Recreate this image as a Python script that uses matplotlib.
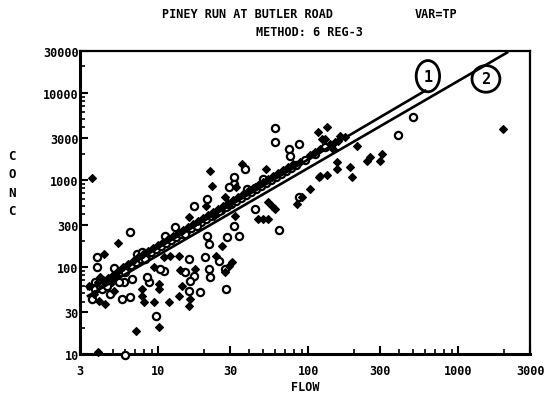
import matplotlib
matplotlib.use("Agg")
import matplotlib.pyplot as plt
from matplotlib.patches import Ellipse
from matplotlib.ticker import FixedLocator, LogLocator, NullFormatter, FixedFormatter

# ---------------- data ----------------
# open-circle observations: flow, concentration
circ_flow = [3.78, 4.08, 4.47, 4.83, 5.21, 5.63, 6.08, 6.56, 7.09, 7.65, 8.26, 8.92, 9.64, 10.4, 11.2,
             12.1, 13.1, 14.1, 15.3, 16.5, 17.8, 19.2, 20.8, 22.4, 24.2, 26.1, 28.2, 30.5, 32.9, 35.5,
             38.4, 41.4, 44.7, 48.3, 52.1, 56.3, 60.8, 65.6, 70.9, 76.5, 82.6, 94.9, 111, 129,
             59.7, 59.7, 87, 74, 75, 86, 64, 44, 50, 39.2, 37.8, 32, 32, 29.6, 21.2, 17.2, 25.2, 32,
             34.5, 28.6, 21.2, 21.6, 18, 15, 12.9, 11.1, 6.46, 3.89, 5.05, 5.97, 7.2, 7.77, 8.15, 16,
             20.3, 25.2, 28.2, 21.6, 22, 17.2, 16.2, 15, 10.9, 10.26, 8.66, 8.4, 16, 18.9, 9.65, 5.71,
             6.46, 5.89, 6.66, 3.77, 4.19, 4.54, 4.75, 3.61, 5.45, 3.89, 5.97, 395, 500, 27.8]
circ_conc = [55.9, 60.5, 65.5, 72.8, 80.9, 87.6, 94.9, 105, 114, 124, 137, 149, 161, 174, 189,
             204, 221, 239, 259, 281, 304, 329, 356, 386, 418, 452, 490, 530, 574, 621,
             673, 728, 788, 853, 924, 1000, 1082, 1172, 1268, 1374, 1486, 1698, 1990, 2395,
             3960, 2730, 2590, 2270, 1890, 640, 266, 464, 1026, 788, 1337, 1082, 900, 832, 605, 502, 440, 296,
             227, 221, 227, 184, 296, 239, 288, 227, 252, 100, 97, 88, 141, 149, 124, 124,
             130, 117, 56, 95, 77, 79, 69, 88, 90, 95, 67, 77, 53, 51.6, 27.3, 42.9,
             45.2, 67, 72.8, 67, 56, 60.5, 48.9, 42.9, 67, 130, 9.8, 3290, 5300, 95]

# filled-diamond observations: flow, concentration
dia_flow = [3.95, 4.27, 4.61, 4.98, 5.38, 5.80, 6.27, 6.77, 7.31, 7.89, 8.52, 9.20, 9.93, 10.7, 11.6,
            12.5, 13.5, 14.6, 15.7, 17.0, 18.4, 19.8, 21.4, 23.1, 25.0, 26.9, 29.1, 31.4, 33.9, 36.6,
            39.5, 42.7, 46.1, 49.8, 53.8, 58.0, 62.7, 67.7, 73.1, 78.9, 87.9, 102, 119, 139, 157, 175,
            133, 116, 123, 150, 110, 117, 133, 102, 84, 57, 60, 54, 46, 50, 54, 52, 44, 36.1, 22, 22.6,
            33, 27.8, 20.8, 16, 23.3, 29.6, 32.5, 26.5, 5.37, 4.34, 10.9, 11.96, 13.7, 24.3, 31, 29.6,
            27.8, 17.5, 13.9, 9.36, 10.1, 10.1, 7.77, 7.77, 8.02, 9.36, 11.8, 13.7, 14.3, 16.2, 16,
            10.1, 7.1, 3.44, 4.07, 3.72, 4.01, 4.41, 5.05, 4.9, 5.13, 3.61, 3.95,
            129, 162, 146, 189, 195, 119, 90, 246, 257, 300, 309, 155, 155, 211, 1982]
dia_conc = [67.2, 70.9, 74.7, 80.9, 90.0, 100, 108, 117, 130, 141, 153, 165, 179, 194, 210,
            227, 246, 266, 288, 312, 338, 366, 396, 429, 464, 502, 544, 589, 638, 690,
            748, 809, 876, 948, 1026, 1111, 1203, 1302, 1410, 1527, 1610, 1938, 2272, 2593, 2806, 3121,
            4065, 3560, 2960, 2730, 2100, 1082, 1141, 788, 530, 502, 464, 559, 356, 356, 356, 1337, 832, 1527, 1268, 853,
            832, 638, 502, 376, 386, 502, 386, 174, 189, 141, 130, 134, 134, 134, 114, 103,
            88, 95, 92, 100, 64, 56, 56, 46, 40, 40, 40, 46, 60, 43, 36,
            20.4, 18.4, 60.5, 76.7, 48.9, 40.6, 37.5, 53, 67, 78.8, 1054, 10.5,
            2960, 3200, 2270, 1410, 1082, 1111, 638, 1653, 1838, 1653, 1990, 1610, 1337, 2460, 3855]

# regression lines (endpoints)
line1_flow = [3.39, 599]
line1_conc = [55.9, 10500]
line2_flow = [3.39, 2110]
line2_conc = [46.4, 28800]

xticks = [3, 10, 30, 100, 300, 1000, 3000]
xtick_labels = ["3", "10", "30", "100", "300", "1000", "3000"]
yticks = [10, 30, 100, 300, 1000, 3000, 10000, 30000]
ytick_labels = ["10", "30", "100", "300", "1000", "3000", "10000", "30000"]

# ---------------- figure ----------------
FONT = "DejaVu Sans Mono"
fig = plt.figure(figsize=(5.47, 4.02), dpi=100)
ax = fig.add_axes([0.1463, 0.1169, 0.969 - 0.1463, 0.8706 - 0.1169])
ax.set_xscale("log")
ax.set_yscale("log")
ax.set_xlim(3, 3000)
ax.set_ylim(10, 30000)

ax.plot(circ_flow, circ_conc, linestyle="none", marker="o", markersize=5.2,
        markerfacecolor="white", markeredgecolor="black", markeredgewidth=1.6, clip_on=False, zorder=3)
ax.plot(dia_flow, dia_conc, linestyle="none", marker="D", markersize=4.2,
        markerfacecolor="black", markeredgecolor="black", markeredgewidth=0.8, clip_on=False, zorder=3)

ax.plot(line1_flow, line1_conc, color="black", linewidth=1.9, zorder=4)
ax.plot(line2_flow, line2_conc, color="black", linewidth=1.9, zorder=4)

# hand-drawn circled line labels
for (cx, cy, w, h, lab) in [(0.773, 0.917, 0.052, 0.103, "1"), (0.902, 0.908, 0.062, 0.088, "2")]:
    ax.add_patch(Ellipse((cx, cy), w, h, transform=ax.transAxes, fill=False,
                         edgecolor="black", linewidth=2.0, clip_on=False, zorder=5))
    ax.text(cx, cy, lab, transform=ax.transAxes, ha="center", va="center",
            fontsize=11, fontweight="bold", family=FONT, zorder=6)

# axes styling
for side in ["left", "bottom"]:
    ax.spines[side].set_linewidth(2.2)
for side in ["top", "right"]:
    ax.spines[side].set_linewidth(1.6)

ax.xaxis.set_major_locator(FixedLocator(xticks))
ax.xaxis.set_major_formatter(FixedFormatter(xtick_labels))
ax.yaxis.set_major_locator(FixedLocator(yticks))
ax.yaxis.set_major_formatter(FixedFormatter(ytick_labels))
ax.xaxis.set_minor_locator(LogLocator(base=10, subs=range(2, 10)))
ax.yaxis.set_minor_locator(LogLocator(base=10, subs=range(2, 10)))
ax.xaxis.set_minor_formatter(NullFormatter())
ax.yaxis.set_minor_formatter(NullFormatter())
ax.tick_params(axis="both", which="major", direction="in", length=6, width=1.5)
ax.tick_params(axis="both", which="minor", direction="in", length=3.5, width=1.2)
ax.tick_params(axis="x", which="major", pad=7)
ax.tick_params(axis="y", which="major", pad=1)
for lab in ax.get_xticklabels() + ax.get_yticklabels():
    lab.set_family(FONT)
    lab.set_fontweight("bold")
    lab.set_fontsize(8.5)

ax.set_xlabel("FLOW", family=FONT, fontweight="bold", fontsize=8.5, labelpad=2)

# stacked vertical y label
fig.text(12 / 547, 1 - 184 / 402, "C\nO\nN\nC", ha="center", va="center", family=FONT,
         fontweight="bold", fontsize=9, linespacing=1.55)

# titles
fig.text(248 / 547, 1 - 15 / 402, "PINEY RUN AT BUTLER ROAD", ha="center", va="center",
         family=FONT, fontweight="bold", fontsize=8.5)
fig.text(436 / 547, 1 - 15 / 402, "VAR=TP", ha="center", va="center",
         family=FONT, fontweight="bold", fontsize=8.5)
fig.text(309 / 547, 1 - 32 / 402, "METHOD: 6 REG-3", ha="center", va="center",
         family=FONT, fontweight="bold", fontsize=8.5)

fig.savefig("out.png", dpi=100)
